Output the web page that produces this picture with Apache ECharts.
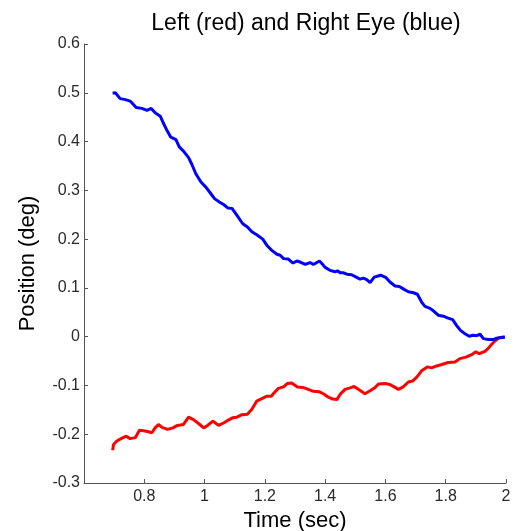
<!DOCTYPE html>
<html>
<head>
<meta charset="utf-8">
<script src="https://cdn.jsdelivr.net/npm/echarts@6/dist/echarts.min.js"></script>
<style>
html,body{margin:0;padding:0;background:#fff;overflow:hidden;}
#chart{width:516px;height:531px;}
</style>
</head>
<body>
<div id="chart"></div>
<script>
var titleText = 'Left (red) and Right Eye (blue)';
var xName = 'Time (sec)';
var yName = 'Position (deg)';

var timeBlue = [0.695,0.704,0.72,0.737,0.753,0.764,0.773,0.792,0.809,0.814,0.823,0.836,0.853,0.864,0.875,0.888,0.905,0.916,0.932,0.947,0.958,0.971,0.988,1.005,1.021,1.033,1.049,1.063,1.077,1.091,1.107,1.126,1.142,1.157,1.173,1.193,1.207,1.223,1.24,1.251,1.262,1.278,1.293,1.306,1.317,1.334,1.35,1.361,1.381,1.389,1.4,1.416,1.433,1.441,1.45,1.461,1.472,1.488,1.503,1.516,1.527,1.538,1.549,1.563,1.584,1.602,1.615,1.632,1.646,1.662,1.676,1.693,1.706,1.72,1.731,1.748,1.761,1.775,1.792,1.808,1.823,1.836,1.849,1.864,1.878,1.891,1.903,1.914,1.925,1.941,1.958,1.969,1.98,1.996];
var posBlue = [0.499,0.5,0.488,0.486,0.483,0.476,0.47,0.468,0.464,0.463,0.468,0.459,0.452,0.437,0.423,0.409,0.404,0.389,0.379,0.367,0.353,0.334,0.317,0.306,0.293,0.283,0.276,0.271,0.264,0.263,0.249,0.232,0.225,0.215,0.209,0.2,0.187,0.177,0.169,0.167,0.16,0.159,0.151,0.155,0.153,0.148,0.152,0.148,0.155,0.15,0.142,0.136,0.133,0.135,0.131,0.131,0.128,0.127,0.122,0.118,0.12,0.117,0.111,0.122,0.126,0.121,0.112,0.104,0.103,0.097,0.092,0.09,0.087,0.071,0.062,0.058,0.052,0.044,0.042,0.038,0.035,0.023,0.013,0.006,0.001,0.003,0.002,0.005,-0.004,-0.006,-0.006,-0.003,-0.002,-0.001];

var timeRed = [0.695,0.698,0.709,0.726,0.74,0.753,0.77,0.784,0.798,0.814,0.825,0.836,0.847,0.859,0.877,0.895,0.91,0.93,0.947,0.963,0.98,0.997,1.01,1.028,1.046,1.063,1.079,1.094,1.107,1.124,1.142,1.157,1.173,1.19,1.207,1.221,1.234,1.245,1.262,1.275,1.289,1.308,1.326,1.344,1.361,1.381,1.394,1.411,1.425,1.439,1.45,1.466,1.483,1.496,1.51,1.532,1.549,1.566,1.577,1.599,1.615,1.629,1.643,1.659,1.676,1.69,1.704,1.72,1.739,1.753,1.77,1.787,1.808,1.831,1.847,1.867,1.886,1.9,1.911,1.93,1.941,1.952,1.963,1.977,1.996];
var posRed = [-0.233,-0.221,-0.214,-0.208,-0.204,-0.209,-0.207,-0.192,-0.193,-0.195,-0.197,-0.187,-0.18,-0.186,-0.19,-0.187,-0.182,-0.18,-0.165,-0.17,-0.178,-0.187,-0.182,-0.173,-0.182,-0.177,-0.171,-0.166,-0.165,-0.16,-0.159,-0.149,-0.132,-0.127,-0.122,-0.122,-0.113,-0.106,-0.103,-0.096,-0.095,-0.103,-0.104,-0.108,-0.112,-0.113,-0.117,-0.124,-0.128,-0.129,-0.118,-0.108,-0.105,-0.102,-0.108,-0.117,-0.111,-0.104,-0.097,-0.096,-0.098,-0.103,-0.108,-0.103,-0.093,-0.091,-0.083,-0.07,-0.062,-0.064,-0.06,-0.057,-0.053,-0.052,-0.045,-0.042,-0.037,-0.031,-0.035,-0.03,-0.024,-0.016,-0.009,-0.002,0];

function pairs(xs, ys){ return xs.map(function(x,i){ return [x, ys[i]]; }); }

var chart = echarts.init(document.getElementById('chart'));
var font = '"Liberation Sans", Arial, Helvetica, sans-serif';
chart.setOption({
  animation: false,
  backgroundColor: '#ffffff',
  title: {
    text: titleText,
    left: 301,
    textAlign: 'center',
    top: 7,
    textStyle: {fontFamily: font, fontSize: 23, fontWeight: 'normal', color: '#000'}
  },
  grid: {left: 84, right: 10, top: 44, bottom: 48, containLabel: false, outerBoundsMode: 'none'},
  xAxis: {
    type: 'value', min: 0.6, max: 2, interval: 0.2,
    name: xName, nameLocation: 'middle', nameGap: 22,
    nameTextStyle: {fontFamily: font, fontSize: 22, color: '#000'},
    axisLine: {show: true, onZero: false, lineStyle: {color: '#555', width: 1}},
    axisTick: {show: true, inside: true, length: 4, lineStyle: {color: '#555'}},
    axisLabel: {fontFamily: font, fontSize: 16, color: '#2a2a2a', margin: 6,
      formatter: function(v){ return Math.abs(v-0.6) < 1e-9 ? '' : String(Math.round(v*10)/10); }},
    splitLine: {show: false}
  },
  yAxis: {
    type: 'value', min: -0.3, max: 0.6, interval: 0.1,
    name: yName, nameLocation: 'middle', nameGap: 45,
    nameTextStyle: {fontFamily: font, fontSize: 22, color: '#000'},
    axisLine: {show: true, onZero: false, lineStyle: {color: '#555', width: 1}},
    axisTick: {show: true, inside: true, length: 4, lineStyle: {color: '#555'}},
    axisLabel: {fontFamily: font, fontSize: 16, color: '#2a2a2a', margin: 4,
      formatter: function(v){ return String(Math.round(v*10)/10); }},
    splitLine: {show: false}
  },
  series: [
    {type: 'line', data: pairs(timeRed, posRed), showSymbol: false, symbol: 'none',
     lineStyle: {color: '#ff0000', width: 3}, itemStyle: {color: '#ff0000'}},
    {type: 'line', data: pairs(timeBlue, posBlue), showSymbol: false, symbol: 'none',
     lineStyle: {color: '#0000ff', width: 3}, itemStyle: {color: '#0000ff'}}
  ]
});
</script>
</body>
</html>
